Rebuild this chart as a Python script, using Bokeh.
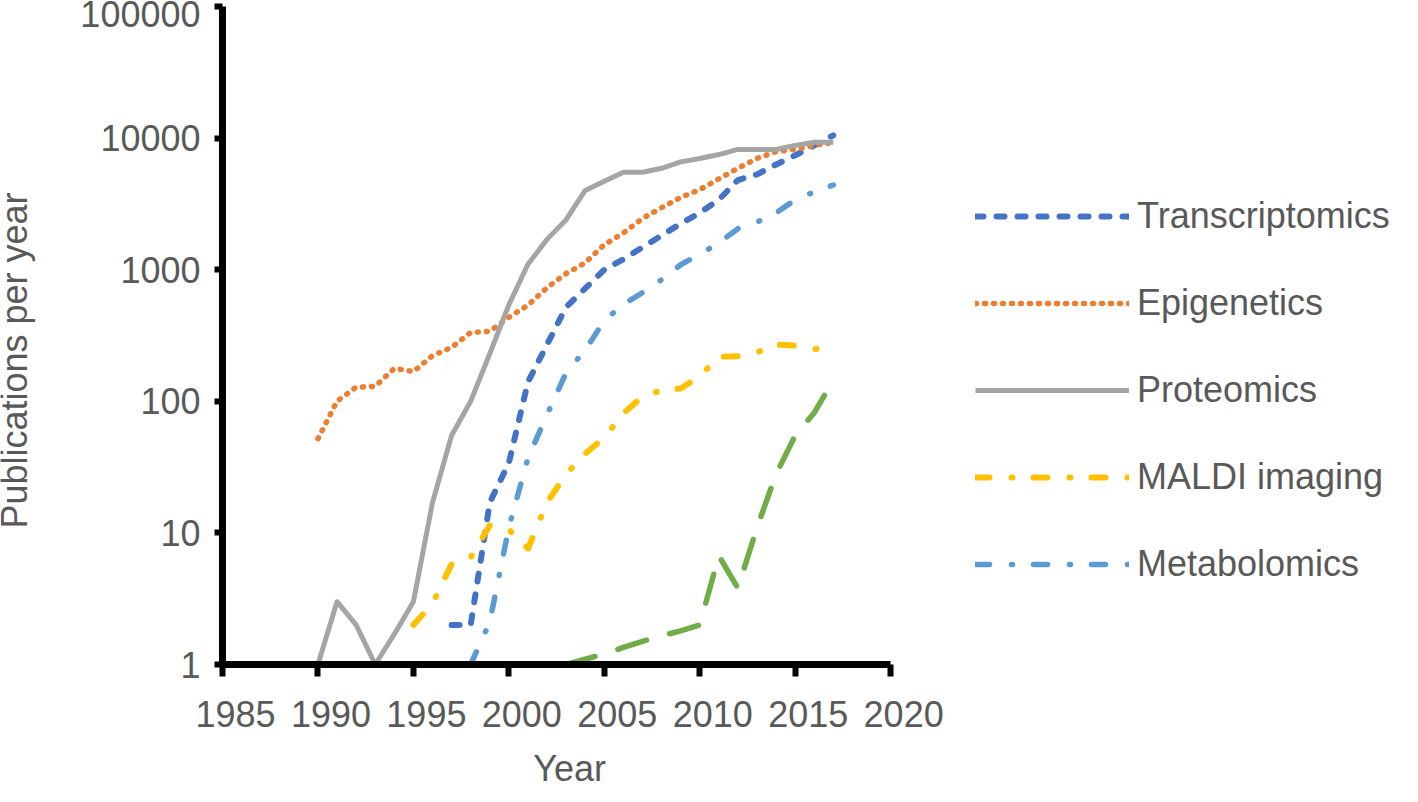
import math
from bokeh.plotting import figure
from bokeh.models import (Range1d, LinearAxis, FixedTicker, NumeralTickFormatter,
                          CustomJSTickFormatter, Legend, LegendItem, Label)
from bokeh.embed import file_html
from bokeh.resources import INLINE

# ---------------- data ----------------
x_ticks = [1985, 1990, 1995, 2000, 2005, 2010, 2015, 2020]
y_ticks = [1, 10, 100, 1000, 10000, 100000]

years_transcriptomics = list(range(1997, 2018))
transcriptomics = [2, 2, 17, 34, 140, 270, 520, 720, 1000, 1200, 1480, 1820, 2240,
                   2700, 3400, 4800, 5300, 6300, 7400, 8800, 10500]

years_epigenetics = list(range(1990, 2018))
epigenetics = [52, 100, 128, 130, 178, 168, 222, 257, 333, 340, 435, 537, 730, 935,
               1130, 1550, 1900, 2450, 2960, 3540, 4060, 4900, 5900, 7000, 7900,
               8200, 8800, 9300]

years_proteomics = list(range(1990, 2018))
proteomics = [1, 3, 2, 1, 1.7, 3, 17, 55, 100, 230, 540, 1100, 1700, 2400, 4000,
              4700, 5500, 5500, 5900, 6600, 7000, 7500, 8200, 8200, 8200, 8800,
              9300, 9300]

years_maldi = list(range(1995, 2018))
maldi = [2, 2.9, 5.8, 6.5, 11.4, 10.6, 7.6, 17, 28, 40, 53, 81, 109, 121, 125, 155,
         218, 220, 235, 270, 265, 250, 250]

years_metabolomics = list(range(1998, 2018))
metabolomics = [1, 2.1, 11, 37, 79, 165, 245, 410, 545, 670, 840, 1090, 1310, 1600,
                2050, 2300, 2700, 3400, 3900, 4400]

years_green = list(range(2003, 2018))
green = [1, 1.1, 1.2, 1.35, 1.5, 1.65, 1.8, 2, 6.7, 3.8, 11, 28, 55, 82, 145]

# ---------------- layout ----------------
FONT = "Liberation Sans"
TXT = "#595959"
W, H = 1402, 786
AXIS_X, TOP = 222, 6                 # where the y axis sits, top of the value span
PX_PER_YEAR = 19.09
Y_AXIS_PX = 658                      # height of the 1 .. 100000 span
PX_PER_DECADE = Y_AXIS_PX / 5
LABEL_SHIFT_PX = 13
SHIFT = LABEL_SHIFT_PX / PX_PER_YEAR  # tick labels sit a little right of their ticks
X0, X1 = x_ticks[0], x_ticks[-1]
Y0, Y1 = y_ticks[0], y_ticks[-1]
XSTART = X0 - AXIS_X / PX_PER_YEAR                           # frame covers the canvas
XEND = X0 + (W - AXIS_X) / PX_PER_YEAR
YMIN = Y0 * 10 ** (-(H - TOP - Y_AXIS_PX) / PX_PER_DECADE)
YMAX = Y1 * 10 ** (TOP / PX_PER_DECADE)

p = figure(width=W, height=H, output_backend="svg", toolbar_location=None,
           x_range=Range1d(XSTART, XEND), y_range=Range1d(YMIN, YMAX),
           y_axis_type="log", x_axis_type=None,
           min_border_left=0, min_border_top=0, min_border_right=0,
           min_border_bottom=0)
p.outline_line_color = None
p.grid.visible = False
p.background_fill_color = "white"
p.border_fill_color = "white"

# x axis: line and ticks only, sitting at y = 1
p.extra_x_ranges = {"lbl": Range1d(XSTART - SHIFT, XEND - SHIFT)}
xa = LinearAxis(ticker=FixedTicker(ticks=x_ticks), bounds=(X0, X1), fixed_location=Y0,
                formatter=CustomJSTickFormatter(code="return ''"))
xa.axis_line_width = 7
xa.axis_line_color = "black"
xa.major_tick_line_width = 6
xa.major_tick_line_color = "black"
xa.major_tick_in = 0
xa.major_tick_out = 12
xa.minor_tick_line_color = None
xa.major_label_standoff = 0
xa.major_label_text_font_size = "1px"
p.add_layout(xa, "below")

# x axis: tick labels
xl = LinearAxis(x_range_name="lbl", ticker=FixedTicker(ticks=x_ticks),
                bounds=(X0 - SHIFT, X1), fixed_location=Y0)
xl.axis_line_color = None
xl.major_tick_line_color = None
xl.minor_tick_line_color = None
xl.major_tick_out = 0
xl.major_tick_in = 0
xl.major_label_standoff = 36
xl.major_label_text_font = FONT
xl.major_label_text_font_size = "36px"
xl.major_label_text_color = TXT
p.add_layout(xl, "below")

# x axis title, centred under the labelled span
p.add_layout(Label(x=(X0 + X1) / 2, x_range_name="lbl", y=18, y_units="screen",
                   text="Year", text_align="center", text_baseline="middle",
                   text_font=FONT, text_font_size="36px", text_color=TXT))

# y axis at x = 1985
ya = p.yaxis[0]
ya.fixed_location = X0
ya.ticker = FixedTicker(ticks=y_ticks)
ya.bounds = (Y0, Y1)
ya.formatter = NumeralTickFormatter(format="0")
ya.axis_line_width = 7
ya.axis_line_color = "black"
ya.major_tick_line_width = 6
ya.major_tick_line_color = "black"
ya.major_tick_in = 0
ya.major_tick_out = 8
ya.minor_tick_line_color = None
ya.major_label_standoff = 14
ya.major_label_text_font = FONT
ya.major_label_text_font_size = "36px"
ya.major_label_text_color = TXT

# y axis title
p.add_layout(Label(x=14, y=H - 360, x_units="screen", y_units="screen",
                   angle=math.pi / 2, text="Publications per year",
                   text_align="center", text_baseline="middle",
                   text_font=FONT, text_font_size="36px", text_color=TXT))

# ---------------- series ----------------
r_tr = p.line(years_transcriptomics, transcriptomics, line_color="#4472C4",
              line_width=6, line_dash="8 13", line_cap="round", line_join="round")
r_ep = p.line(years_epigenetics, epigenetics, line_color="#ED7D31",
              line_width=5.5, line_dash="1 8", line_cap="round", line_join="round")
r_pr = p.line(years_proteomics, proteomics, line_color="#A5A5A5",
              line_width=5, line_join="round")
r_ma = p.line(years_maldi, maldi, line_color="#FFC000",
              line_width=6, line_dash="14 22 1 21", line_cap="round", line_join="round")
r_me = p.line(years_metabolomics, metabolomics, line_color="#5B9BD5",
              line_width=5.5, line_dash="14 22 1 21", line_cap="round", line_join="round")
r_gr = p.line(years_green, green, line_color="#70AD47",
              line_width=5.5, line_dash="30 24", line_cap="round", line_join="round")

legend = Legend(items=[
    LegendItem(label="Transcriptomics", renderers=[r_tr]),
    LegendItem(label="Epigenetics", renderers=[r_ep]),
    LegendItem(label="Proteomics", renderers=[r_pr]),
    LegendItem(label="MALDI imaging", renderers=[r_ma]),
    LegendItem(label="Metabolomics", renderers=[r_me]),
], location=(975, 201))
legend.glyph_width = 154
legend.glyph_height = 40
legend.label_height = 40
legend.spacing = 45
legend.padding = 0
legend.margin = 0
legend.label_standoff = 8
legend.border_line_color = None
legend.background_fill_alpha = 0
legend.label_text_font = FONT
legend.label_text_font_size = "36px"
legend.label_text_color = TXT
p.add_layout(legend, "center")

open("out.html", "w").write(file_html(p, INLINE))
